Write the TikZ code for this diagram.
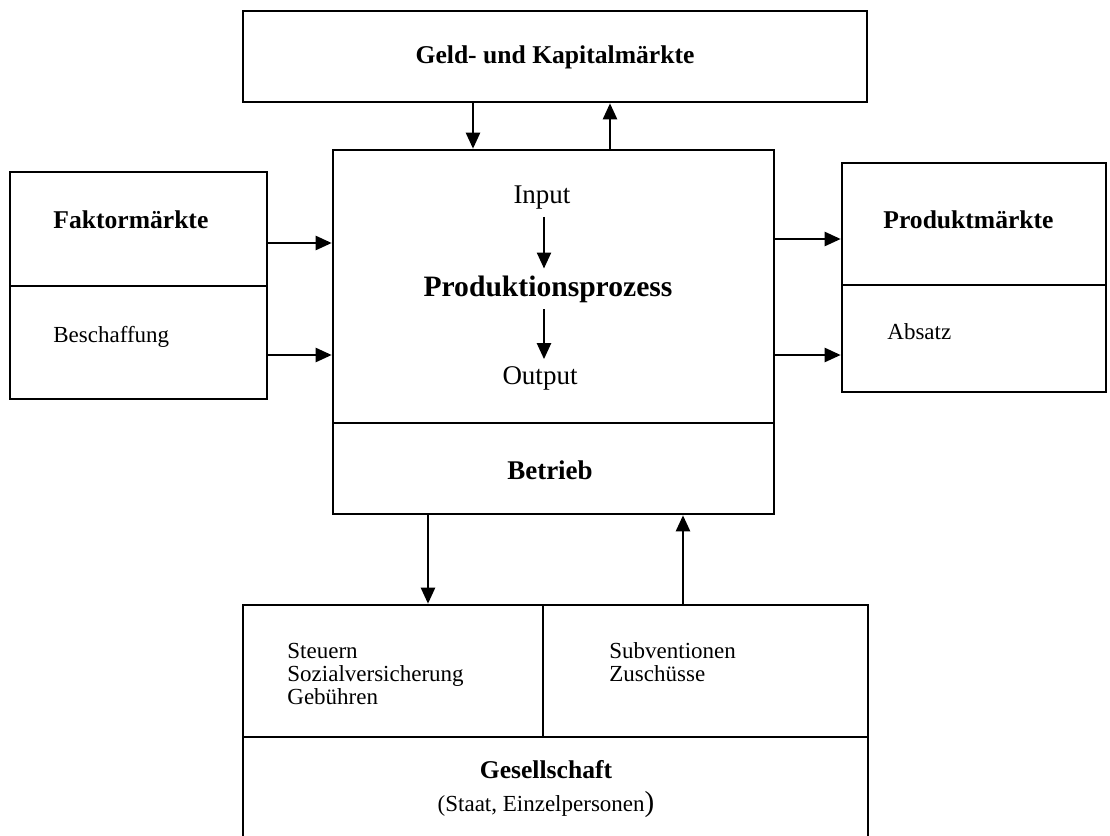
\documentclass[tikz,border=0pt]{standalone}
\usepackage{fontspec}
\setmainfont{Liberation Serif}
\usetikzlibrary{arrows.meta,fit}

\begin{document}
\begin{tikzpicture}[x=0.5pt,y=-0.5pt,
    every node/.style={font=\fontsize{11.5}{13.8}\selectfont},
    box/.style={draw,line width=1.3pt,inner sep=0pt},
    title/.style={font=\fontsize{12.8}{15}\selectfont\bfseries},
    txt/.style={anchor=base west,inner sep=0pt},
    flow/.style={-{Triangle[length=8pt,width=7pt]},line width=1.2pt}]
  \useasboundingbox (0,0) rectangle (1110,836);
  \clip (0,0) rectangle (1110,836);
  % boxes
  \node[box,fit={(243,11) (867,102)}] (geld) {};
  \node[box,fit={(333,150) (774,514)}] (betrieb) {};
  \node[box,fit={(10,172) (267,399)}] (faktor) {};
  \node[box,fit={(842,163) (1106,392)}] (produkt) {};
  \node[box,fit={(243,605) (868,860)}] (ges) {};
  \draw[line width=1.3pt]
    (333,423) -- (774,423)
    (10,286) -- (267,286)
    (842,285) -- (1106,285)
    (243,737) -- (868,737)
    (543,605) -- (543,737);
  % texts
  \node[title] (geldtext) at (555,57) {Geld- und Kapitalmärkte};
  \node[font=\fontsize{13.5}{16}\selectfont] (input) at (542,198) {Input};
  \node[font=\fontsize{14.8}{17}\selectfont\bfseries] (prozess) at (548,289) {Produktionsprozess};
  \node[font=\fontsize{13.5}{16}\selectfont] (output) at (540,378) {Output};
  \node[font=\fontsize{13.5}{16}\selectfont\bfseries] (betriebtext) at (550,470) {Betrieb};
  \node[title,txt] (faktortext) at (53,228) {Faktormärkte};
  \node[txt] (beschaffung) at (53,342) {Beschaffung};
  \node[title,txt] (produkttext) at (883,228) {Produktmärkte};
  \node[txt] (absatz) at (887,339) {Absatz};
  \node[txt] (steuern) at (287,658) {Steuern};
  \node[txt] (sozial) at (287,681) {Sozialversicherung};
  \node[txt] (gebuehren) at (287,704) {Gebühren};
  \node[txt] (subventionen) at (609,658) {Subventionen};
  \node[txt] (zuschuesse) at (609,681) {Zuschüsse};
  \node[title,anchor=base] (gestext) at (546,778) {Gesellschaft};
  \node[anchor=base] (staat) at (546,811) {(Staat, Einzelpersonen{\fontsize{14.5}{15}\selectfont)}};
  % connectors
  \coordinate (mid) at (544,0);
  \coordinate (gdown) at (473,0);
  \coordinate (gup) at (610,0);
  \coordinate (fa1) at (0,243);
  \coordinate (fa2) at (0,355);
  \coordinate (pa1) at (0,239);
  \coordinate (pa2) at (0,355);
  \coordinate (sdown) at (428,0);
  \coordinate (sup1) at (683,0);
  \draw[flow] (input.south -| mid) -- (prozess.north -| mid);
  \draw[flow] (prozess.south -| mid) -- (output.north -| mid);
  \draw[flow] (geld.south -| gdown) -- (betrieb.north -| gdown);
  \draw[flow] (betrieb.north -| gup) -- (geld.south -| gup);
  \draw[flow] (faktor.east |- fa1) -- (betrieb.west |- fa1);
  \draw[flow] (faktor.east |- fa2) -- (betrieb.west |- fa2);
  \draw[flow] (betrieb.east |- pa1) -- (produkt.west |- pa1);
  \draw[flow] (betrieb.east |- pa2) -- (produkt.west |- pa2);
  \draw[flow] (betrieb.south -| sdown) -- (ges.north -| sdown);
  \draw[flow] (ges.north -| sup1) -- (betrieb.south -| sup1);
\end{tikzpicture}
\end{document}
